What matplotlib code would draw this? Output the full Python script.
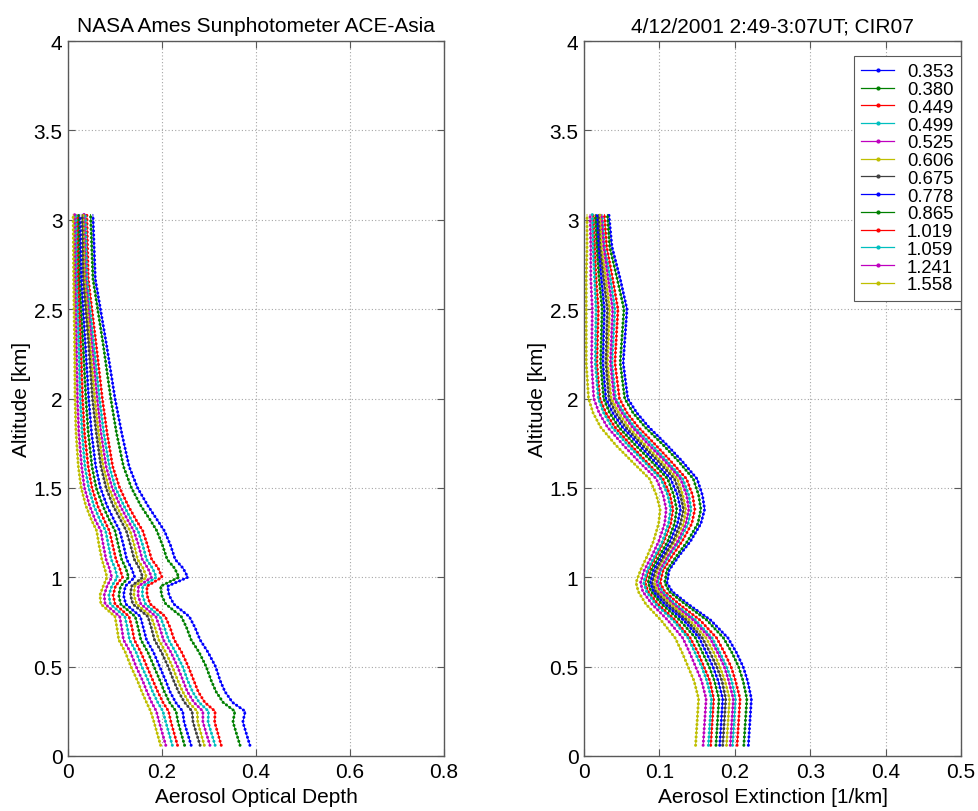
import matplotlib
matplotlib.use('Agg')
import matplotlib.pyplot as plt
from matplotlib.lines import Line2D
from matplotlib.ticker import FuncFormatter

plt.rcParams['font.family'] = ['Liberation Sans', 'DejaVu Sans']

# ---------------- data ----------------
wavelengths = ['0.353', '0.380', '0.449', '0.499', '0.525', '0.606', '0.675',
               '0.778', '0.865', '1.019', '1.059', '1.241', '1.558']

# Left panel: aerosol optical depth vs altitude
altitude_aod = [0.06, 0.19, 0.25, 0.30, 0.36, 0.42, 0.50, 0.58, 0.65, 0.72, 0.78, 0.85, 0.90, 0.95,
                1.00, 1.05, 1.10, 1.18, 1.26, 1.32, 1.40, 1.50, 1.62, 1.81, 2.00, 2.30, 2.67, 3.03]
aod_0353 = [0.387, 0.372, 0.377, 0.350, 0.334, 0.324, 0.314, 0.298, 0.281, 0.270, 0.258, 0.225, 0.215, 0.212,
            0.255, 0.245, 0.228, 0.218, 0.205, 0.190, 0.170, 0.148, 0.130, 0.114, 0.100, 0.082, 0.058, 0.053]
aod_0380 = [0.366, 0.351, 0.355, 0.330, 0.315, 0.305, 0.294, 0.279, 0.262, 0.252, 0.241, 0.208, 0.199, 0.197,
            0.236, 0.227, 0.211, 0.201, 0.189, 0.175, 0.155, 0.135, 0.118, 0.103, 0.091, 0.075, 0.053, 0.048]
aod_0449 = [0.326, 0.312, 0.313, 0.291, 0.277, 0.268, 0.256, 0.242, 0.226, 0.217, 0.207, 0.175, 0.168, 0.168,
            0.200, 0.192, 0.178, 0.169, 0.159, 0.145, 0.128, 0.110, 0.095, 0.083, 0.073, 0.060, 0.043, 0.040]
aod_0499 = [0.313, 0.298, 0.299, 0.279, 0.265, 0.255, 0.244, 0.229, 0.214, 0.205, 0.196, 0.165, 0.158, 0.159,
            0.188, 0.180, 0.167, 0.159, 0.149, 0.135, 0.119, 0.101, 0.088, 0.076, 0.067, 0.055, 0.040, 0.037]
aod_0525 = [0.302, 0.287, 0.287, 0.268, 0.254, 0.245, 0.233, 0.219, 0.203, 0.195, 0.187, 0.155, 0.149, 0.150,
            0.178, 0.170, 0.158, 0.150, 0.140, 0.127, 0.111, 0.094, 0.081, 0.070, 0.062, 0.051, 0.037, 0.034]
aod_0606 = [0.290, 0.276, 0.275, 0.257, 0.244, 0.234, 0.222, 0.208, 0.193, 0.185, 0.177, 0.146, 0.140, 0.142,
            0.167, 0.160, 0.148, 0.141, 0.132, 0.119, 0.103, 0.087, 0.075, 0.065, 0.057, 0.047, 0.035, 0.032]
aod_0675 = [0.281, 0.266, 0.264, 0.248, 0.235, 0.225, 0.213, 0.199, 0.184, 0.177, 0.170, 0.138, 0.133, 0.135,
            0.159, 0.152, 0.141, 0.133, 0.124, 0.112, 0.096, 0.081, 0.070, 0.060, 0.052, 0.044, 0.032, 0.030]
aod_0778 = [0.262, 0.247, 0.244, 0.229, 0.217, 0.208, 0.195, 0.182, 0.167, 0.160, 0.154, 0.123, 0.118, 0.122,
            0.142, 0.135, 0.125, 0.118, 0.110, 0.098, 0.083, 0.069, 0.059, 0.050, 0.044, 0.037, 0.028, 0.025]
aod_0865 = [0.248, 0.234, 0.230, 0.216, 0.205, 0.196, 0.183, 0.170, 0.155, 0.149, 0.143, 0.112, 0.108, 0.112,
            0.129, 0.123, 0.114, 0.107, 0.100, 0.088, 0.074, 0.060, 0.051, 0.043, 0.038, 0.032, 0.024, 0.022]
aod_1019 = [0.233, 0.219, 0.214, 0.202, 0.191, 0.181, 0.168, 0.155, 0.141, 0.136, 0.130, 0.100, 0.096, 0.101,
            0.116, 0.110, 0.102, 0.095, 0.088, 0.077, 0.063, 0.051, 0.043, 0.035, 0.031, 0.027, 0.021, 0.019]
aod_1059 = [0.222, 0.208, 0.202, 0.191, 0.180, 0.171, 0.157, 0.145, 0.131, 0.126, 0.121, 0.090, 0.087, 0.093,
            0.105, 0.100, 0.092, 0.086, 0.080, 0.068, 0.055, 0.044, 0.036, 0.030, 0.026, 0.023, 0.018, 0.017]
aod_1241 = [0.208, 0.194, 0.188, 0.178, 0.168, 0.159, 0.145, 0.133, 0.118, 0.114, 0.110, 0.079, 0.077, 0.083,
            0.093, 0.088, 0.081, 0.075, 0.070, 0.058, 0.046, 0.035, 0.029, 0.023, 0.020, 0.018, 0.015, 0.014]
aod_1558 = [0.197, 0.183, 0.176, 0.167, 0.157, 0.148, 0.134, 0.122, 0.108, 0.104, 0.100, 0.070, 0.068, 0.075,
            0.083, 0.078, 0.072, 0.066, 0.061, 0.050, 0.038, 0.028, 0.022, 0.017, 0.015, 0.014, 0.012, 0.011]

# Right panel: aerosol extinction vs altitude
altitude_ext = [0.06, 0.32, 0.42, 0.50, 0.58, 0.66, 0.76, 0.85, 0.92, 0.97, 1.04, 1.12, 1.20, 1.30,
                1.38, 1.46, 1.55, 1.65, 1.74, 1.84, 1.92, 2.00, 2.20, 2.50, 2.67, 2.85, 3.03]
ext_0353 = [0.218, 0.222, 0.217, 0.211, 0.202, 0.191, 0.168, 0.138, 0.117, 0.110, 0.113, 0.126, 0.141, 0.155,
            0.160, 0.157, 0.150, 0.130, 0.110, 0.086, 0.070, 0.058, 0.052, 0.057, 0.048, 0.037, 0.033]
ext_0380 = [0.212, 0.216, 0.211, 0.205, 0.196, 0.185, 0.163, 0.134, 0.113, 0.107, 0.110, 0.123, 0.137, 0.151,
            0.155, 0.152, 0.145, 0.125, 0.105, 0.081, 0.065, 0.054, 0.048, 0.053, 0.044, 0.034, 0.031]
ext_0449 = [0.203, 0.207, 0.201, 0.195, 0.186, 0.176, 0.154, 0.126, 0.107, 0.101, 0.105, 0.117, 0.130, 0.143,
            0.147, 0.144, 0.136, 0.115, 0.095, 0.072, 0.057, 0.047, 0.041, 0.045, 0.038, 0.030, 0.027]
ext_0499 = [0.197, 0.201, 0.196, 0.189, 0.180, 0.170, 0.148, 0.121, 0.104, 0.098, 0.102, 0.113, 0.126, 0.138,
            0.142, 0.139, 0.131, 0.110, 0.090, 0.067, 0.053, 0.042, 0.037, 0.041, 0.035, 0.027, 0.024]
ext_0525 = [0.194, 0.198, 0.192, 0.186, 0.177, 0.167, 0.145, 0.118, 0.101, 0.096, 0.100, 0.111, 0.124, 0.135,
            0.139, 0.136, 0.128, 0.107, 0.086, 0.064, 0.050, 0.040, 0.035, 0.038, 0.032, 0.026, 0.023]
ext_0606 = [0.189, 0.193, 0.187, 0.180, 0.172, 0.162, 0.140, 0.115, 0.098, 0.093, 0.097, 0.108, 0.120, 0.132,
            0.135, 0.131, 0.124, 0.102, 0.081, 0.059, 0.046, 0.036, 0.031, 0.034, 0.029, 0.023, 0.021]
ext_0675 = [0.184, 0.188, 0.183, 0.176, 0.167, 0.157, 0.136, 0.111, 0.095, 0.090, 0.095, 0.106, 0.118, 0.128,
            0.132, 0.128, 0.120, 0.098, 0.077, 0.055, 0.042, 0.033, 0.029, 0.031, 0.026, 0.021, 0.019]
ext_0778 = [0.180, 0.184, 0.178, 0.171, 0.162, 0.153, 0.132, 0.107, 0.092, 0.088, 0.092, 0.103, 0.114, 0.124,
            0.128, 0.124, 0.115, 0.093, 0.073, 0.051, 0.038, 0.029, 0.025, 0.027, 0.023, 0.019, 0.017]
ext_0865 = [0.175, 0.179, 0.173, 0.166, 0.157, 0.148, 0.127, 0.103, 0.089, 0.085, 0.089, 0.100, 0.111, 0.120,
            0.123, 0.119, 0.111, 0.089, 0.068, 0.046, 0.034, 0.026, 0.022, 0.024, 0.020, 0.017, 0.015]
ext_1019 = [0.168, 0.172, 0.167, 0.159, 0.151, 0.141, 0.121, 0.098, 0.085, 0.081, 0.086, 0.096, 0.106, 0.115,
            0.118, 0.114, 0.105, 0.082, 0.062, 0.041, 0.029, 0.021, 0.017, 0.019, 0.016, 0.014, 0.012]
ext_1059 = [0.165, 0.169, 0.163, 0.156, 0.147, 0.138, 0.118, 0.095, 0.083, 0.079, 0.084, 0.094, 0.104, 0.112,
            0.115, 0.111, 0.102, 0.079, 0.058, 0.037, 0.026, 0.019, 0.015, 0.016, 0.014, 0.012, 0.011]
ext_1241 = [0.158, 0.162, 0.156, 0.148, 0.140, 0.131, 0.111, 0.090, 0.078, 0.075, 0.080, 0.090, 0.099, 0.107,
            0.109, 0.105, 0.096, 0.072, 0.052, 0.031, 0.020, 0.013, 0.010, 0.011, 0.009, 0.009, 0.008]
ext_1558 = [0.148, 0.152, 0.146, 0.138, 0.130, 0.121, 0.102, 0.082, 0.072, 0.069, 0.075, 0.084, 0.092, 0.099,
            0.101, 0.096, 0.087, 0.063, 0.042, 0.022, 0.012, 0.006, 0.003, 0.003, 0.003, 0.004, 0.004]

aod_series = [aod_0353, aod_0380, aod_0449, aod_0499, aod_0525, aod_0606, aod_0675,
              aod_0778, aod_0865, aod_1019, aod_1059, aod_1241, aod_1558]
ext_series = [ext_0353, ext_0380, ext_0449, ext_0499, ext_0525, ext_0606, ext_0675,
              ext_0778, ext_0865, ext_1019, ext_1059, ext_1241, ext_1558]

left_xticks = [0, 0.2, 0.4, 0.6, 0.8]
right_xticks = [0, 0.1, 0.2, 0.3, 0.4, 0.5]
yticks = [0, 0.5, 1, 1.5, 2, 2.5, 3, 3.5, 4]

# MATLAB classic colour order
matlab_colors = [(0, 0, 1), (0, 0.5, 0), (1, 0, 0), (0, 0.75, 0.75),
                 (0.75, 0, 0.75), (0.75, 0.75, 0), (0.25, 0.25, 0.25)]
colors = [matlab_colors[i % 7] for i in range(len(wavelengths))]

# ---------------- figure ----------------
fig = plt.figure(figsize=(9.79, 8.12), dpi=100)
ax1 = fig.add_axes([68 / 979, 55 / 812, 376 / 979, 715 / 812])
ax2 = fig.add_axes([584 / 979, 55 / 812, 377 / 979, 715 / 812])

edge = (0.35, 0.35, 0.35)
fmt = FuncFormatter(lambda v, p: f'{v:g}')
FS = 15


def draw(ax, xs_list, alt):
    for xs, c in zip(xs_list, colors):
        ax.plot(xs, alt, color=c, lw=0.6, zorder=2)
        ax.plot(xs, alt, color=c, lw=2.2, linestyle=(0, (0.01, 1.35)),
                dash_capstyle='round', zorder=2)


def style(ax, xmax, xticks, title, xlabel):
    ax.set_xlim(0, xmax)
    ax.set_ylim(0, 4)
    ax.set_xticks(xticks)
    ax.set_yticks(yticks)
    ax.xaxis.set_major_formatter(fmt)
    ax.yaxis.set_major_formatter(fmt)
    ax.grid(True, linestyle=(0, (1, 2)), color=(0.65, 0.65, 0.65), lw=0.8)
    ax.set_axisbelow(True)
    ax.tick_params(direction='in', top=True, right=True, length=5, width=0.8,
                   color=edge, labelsize=FS, pad=4)
    for s in ax.spines.values():
        s.set_color(edge)
        s.set_linewidth(1.0)
    ax.set_title(title, fontsize=FS, pad=7)
    ax.set_xlabel(xlabel, fontsize=FS, labelpad=5)
    ax.set_ylabel('Altitude [km]', fontsize=FS, labelpad=2)


draw(ax1, aod_series, altitude_aod)
draw(ax2, ext_series, altitude_ext)
style(ax1, 0.8, left_xticks, 'NASA Ames Sunphotometer ACE-Asia', 'Aerosol Optical Depth')
style(ax2, 0.5, right_xticks, '4/12/2001 2:49-3:07UT; CIR07', 'Aerosol Extinction [1/km]')

handles = [Line2D([0], [0], color=c, lw=0.9, marker='.', markersize=4) for c in colors]
leg = ax2.legend(handles, wavelengths, loc='upper right', bbox_to_anchor=(1.0, 0.979),
                 borderaxespad=0, fontsize=13.3, frameon=True, fancybox=False,
                 framealpha=1, edgecolor=edge, labelspacing=0.04, handlelength=1.75,
                 handletextpad=0.72, borderpad=0.4)
leg.get_frame().set_linewidth(0.8)

fig.savefig('out.png', dpi=100)
